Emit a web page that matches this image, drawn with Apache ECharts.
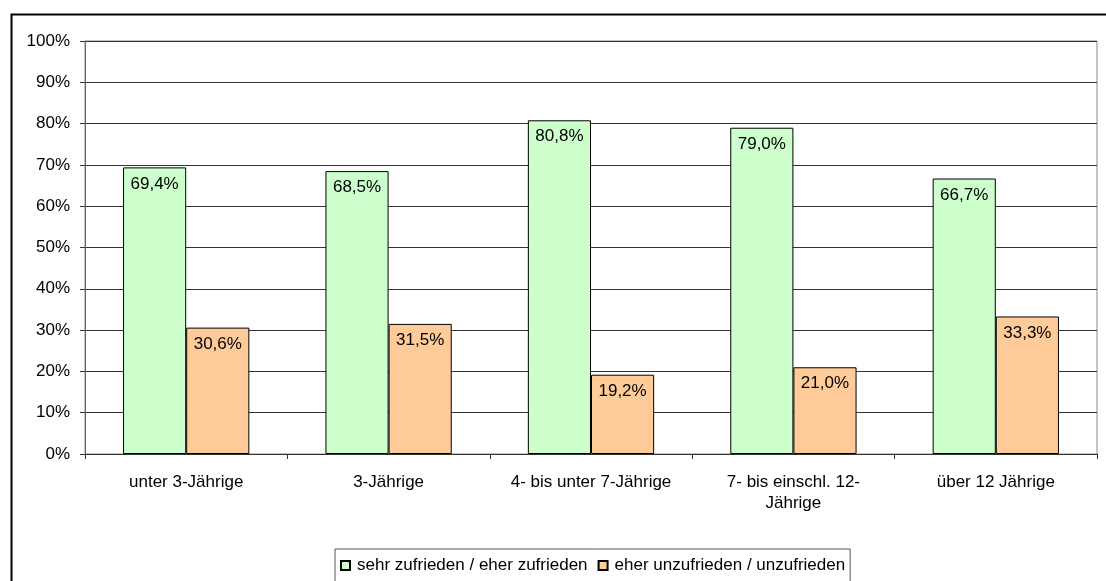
<!DOCTYPE html>
<html>
<head>
<meta charset="utf-8">
<script src="https://cdn.jsdelivr.net/npm/echarts@6/dist/echarts.min.js"></script>
<style>
html,body{margin:0;padding:0;background:#fff;}
#chart{width:1106px;height:581px;}
</style>
</head>
<body>
<div id="chart"></div>
<script>
const categories = ['unter 3-Jährige', '3-Jährige', '4- bis unter 7-Jährige', '7- bis einschl. 12-\nJährige', 'über 12 Jährige'];
const seriesNames = ['sehr zufrieden / eher zufrieden', 'eher unzufrieden / unzufrieden'];
const zufrieden = [69.4, 68.5, 80.8, 79.0, 66.7];
const unzufrieden = [30.6, 31.5, 19.2, 21.0, 33.3];

const font = 'Liberation Sans, Arial, sans-serif';
const fs = 17;
const chart = echarts.init(document.getElementById('chart'), null, {renderer: 'canvas'});

function lbl(p) { return p.value.toFixed(1).replace('.', ',') + '%'; }

chart.setOption({
  animation: false,
  backgroundColor: '#fff',
  textStyle: {fontFamily: font},
  graphic: [{
    type: 'rect', left: 9, top: 12, z: 100, silent: true,
    shape: {x: 0, y: 0, width: 1200, height: 700},
    style: {fill: 'none', stroke: '#000', lineWidth: 2}
  }],
  grid: {left: 85, right: 9, top: 41, bottom: 127, show: true, borderColor: '#888', borderWidth: 1},
  legend: {
    left: 335, top: 549,
    data: seriesNames,
    icon: 'rect', itemWidth: 9, itemHeight: 9, itemGap: 10,
    borderColor: '#555', borderWidth: 1,
    padding: [8, 5, 20, 5],
    textStyle: {fontFamily: font, fontSize: fs, color: '#000', padding: [0, 0, 0, 2]}
  },
  xAxis: {
    type: 'category', data: categories,
    axisLine: {lineStyle: {color: '#333', width: 1}},
    axisTick: {show: true, length: 5, lineStyle: {color: '#333'}},
    axisLabel: {interval: 0, color: '#000', fontSize: fs, fontFamily: font, margin: 18, lineHeight: 21}
  },
  yAxis: {
    type: 'value', min: 0, max: 100, interval: 10,
    axisLine: {show: true, lineStyle: {color: '#666', width: 1}},
    axisTick: {show: true, length: 5, lineStyle: {color: '#333'}},
    axisLabel: {formatter: '{value}%', color: '#000', fontSize: fs, fontFamily: font, margin: 15},
    splitLine: {lineStyle: {color: '#333', width: 1}}
  },
  series: [{
    name: seriesNames[0], type: 'bar', data: zufrieden,
    barGap: '0%', barCategoryGap: '37.6%',
    itemStyle: {color: '#CCFFCC', borderColor: '#000', borderWidth: 1},
    label: {show: true, position: 'insideTop', distance: 8, formatter: lbl, color: '#000', fontSize: fs, fontFamily: font}
  }, {
    name: seriesNames[1], type: 'bar', data: unzufrieden,
    itemStyle: {color: '#FFCC99', borderColor: '#000', borderWidth: 1},
    label: {show: true, position: 'insideTop', distance: 8, formatter: lbl, color: '#000', fontSize: fs, fontFamily: font}
  }]
});
</script>
</body>
</html>
